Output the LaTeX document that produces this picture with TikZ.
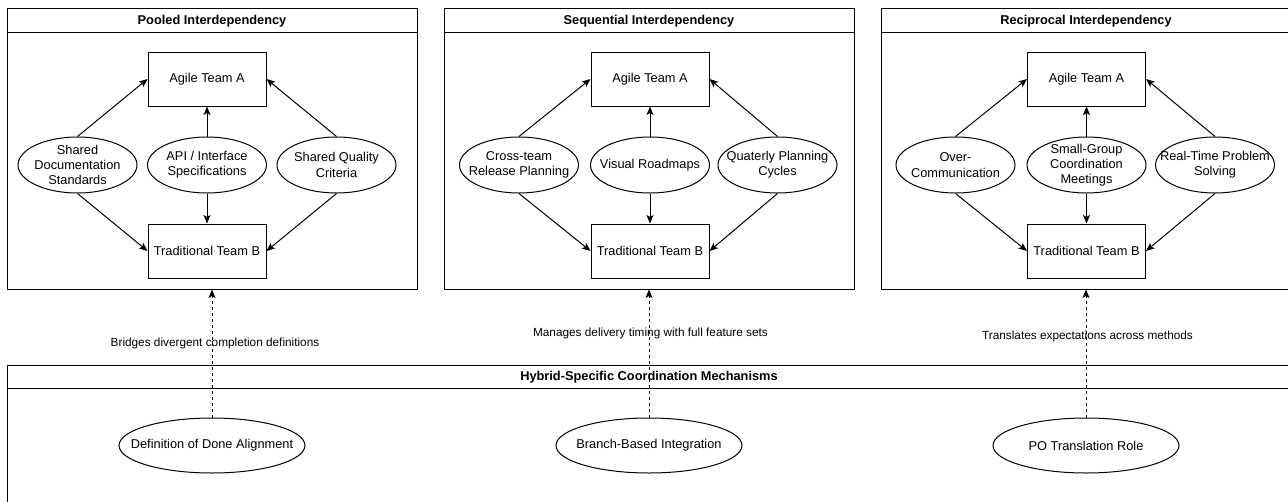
\documentclass[tikz,border=0pt]{standalone}
\usepackage{fontspec}
\setmainfont{Liberation Sans}
\usetikzlibrary{arrows.meta,shapes.geometric}

\tikzset{
  panel/.style={draw, line width=1pt, minimum width=410pt, minimum height=281pt, inner sep=0pt},
  team/.style={draw, line width=1pt, minimum width=118pt, minimum height=54pt, inner sep=0pt,
    font=\fontsize{12.8}{15.3}\selectfont},
  oval/.style={ellipse, draw, line width=1pt, minimum width=119pt, minimum height=56pt, inner sep=0pt},
  wideoval/.style={oval, minimum width=186pt, minimum height=55pt},
  ovaltext/.style={font=\fontsize{12.8}{15.3}\selectfont, align=center, inner sep=0pt},
  heading/.style={font=\fontsize{12.8}{15}\selectfont\bfseries, inner sep=0pt},
  link/.style={-{Stealth[length=8.5pt,width=7pt,inset=2pt]}, line width=1pt},
  bridge/.style={link, dash pattern=on 3pt off 3pt},
  note/.style={font=\fontsize{11.8}{14}\selectfont, inner sep=0pt},
}

\begin{document}
\begin{tikzpicture}[x=1pt,y=-1pt]
\useasboundingbox (0,0) rectangle (1288,501);
\clip (0,0) rectangle (1288,501);
\fill[white] (0,0) rectangle (1288,501);

% ---- the three interdependency panels ----
\node[panel] (p1) at (212,148.5) {};
\node[panel] (p2) at (649,148.5) {};
\node[panel] (p3) at (1086,148.5) {};
\foreach \p in {p1,p2,p3}
  \draw[line width=1pt] ([yshift=-25pt]\p.north west) -- ([yshift=-25pt]\p.north east);

\node[heading] (t1) at (212,21) {Pooled Interdependency};
\node[heading] (t2) at (649,21) {Sequential Interdependency};
\node[heading] (t3) at (1086,21) {Reciprocal Interdependency};

% Pooled
\node[team] (a1) at (207,79) {Agile Team A};
\node[team] (b1) at (207,251) {Traditional Team B};
\node[oval, label={[ovaltext]center:Shared\\Documentation\\Standards}] (e11) at (77.5,165) {};
\node[oval, label={[ovaltext]center:API / Interface\\Specifications}] (e12) at (207,165) {};
\node[oval, label={[ovaltext]center:Shared Quality\\Criteria}] (e13) at (336.5,165) {};

% Sequential
\node[team] (a2) at (650,79) {Agile Team A};
\node[team] (b2) at (650,251) {Traditional Team B};
\node[oval, label={[ovaltext]center:Cross-team\\Release Planning}] (e21) at (519,165) {};
\node[oval, label={[ovaltext]center:Visual Roadmaps}] (e22) at (650,165) {};
\node[oval, label={[ovaltext]center:Quaterly Planning\\Cycles}] (e23) at (777.5,165) {};

% Reciprocal
\node[team] (a3) at (1086.5,79) {Agile Team A};
\node[team] (b3) at (1086.5,251) {Traditional Team B};
\node[oval, label={[ovaltext]center:Over-\\Communication}] (e31) at (955.5,165) {};
\node[oval, label={[ovaltext]center:Small-Group\\Coordination\\Meetings}] (e32) at (1086.5,165) {};
\node[oval, label={[ovaltext]center:Real-Time Problem\\Solving}] (e33) at (1215,165) {};

\foreach \i in {1,2,3} {
  \draw[link] (e\i1.north) -- (a\i.west);
  \draw[link] (e\i1.south) -- (b\i.west);
  \draw[link] (e\i2.north) -- (a\i.south);
  \draw[link] (e\i2.south) -- (b\i.north);
  \draw[link] (e\i3.north) -- (a\i.east);
  \draw[link] (e\i3.south) -- (b\i.east);
}

% ---- hybrid coordination mechanisms ----
\node[panel, minimum width=1284pt, minimum height=160pt] (hb) at (649,445) {};
\draw[line width=1pt] ([yshift=-24pt]hb.north west) -- ([yshift=-24pt]hb.north east);
\node[heading] (th) at (649,377) {Hybrid-Specific Coordination Mechanisms};

\node[wideoval, label={[ovaltext]center:Definition of Done Alignment}] (d1) at (212,445.5) {};
\node[wideoval, label={[ovaltext]center:Branch-Based Integration}] (d2) at (649,445.5) {};
\node[wideoval, label={[ovaltext]center:PO Translation Role}] (d3) at (1086,445.5) {};

\draw[bridge] (d1.north) -- (p1.south);
\draw[bridge] (d2.north) -- (p2.south);
\draw[bridge] (d3.north) -- (p3.south);

\node[note] (n1) at (215,343) {Bridges divergent completion definitions};
\node[note] (n2) at (650.5,333) {Manages delivery timing with full feature sets};
\node[note] (n3) at (1087.5,336) {Translates expectations across methods};
\end{tikzpicture}
\end{document}
